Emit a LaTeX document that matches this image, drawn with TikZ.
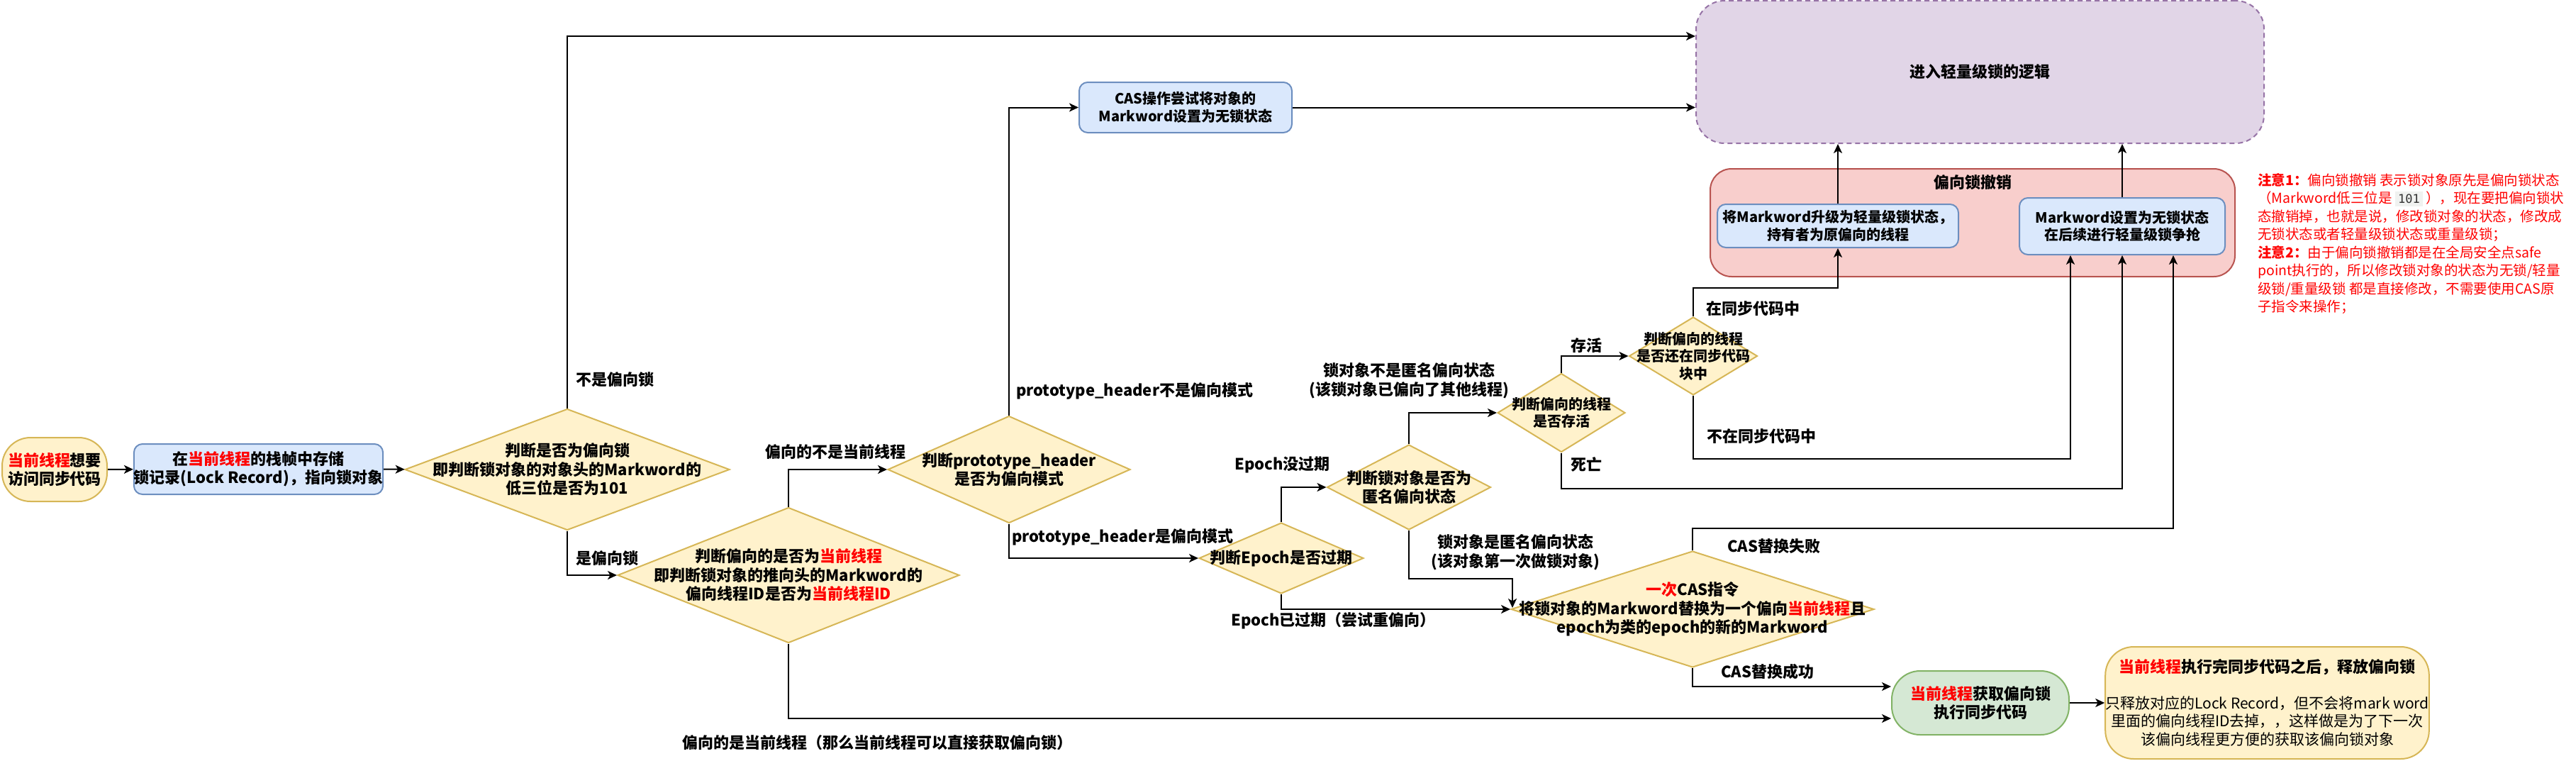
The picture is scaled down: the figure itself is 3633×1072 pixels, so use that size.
\documentclass[tikz,border=0pt]{standalone}
\usepackage{fontspec}
\setmainfont{Noto Sans CJK SC}
\setmonofont{DejaVu Sans Mono}
\usetikzlibrary{shapes.geometric,arrows.meta}

\definecolor{decfill}{HTML}{FFF2CC}
\definecolor{decline}{HTML}{D6B656}
\definecolor{blufill}{HTML}{DAE8FC}
\definecolor{bluline}{HTML}{6C8EBF}
\definecolor{grnfill}{HTML}{D5E8D4}
\definecolor{grnline}{HTML}{82B366}
\definecolor{revfill}{HTML}{F8CECC}
\definecolor{revline}{HTML}{B85450}
\definecolor{purfill}{HTML}{E1D5E7}
\definecolor{purline}{HTML}{9673A6}
\definecolor{codebg}{HTML}{F0F2F0}

\newcommand{\redtext}[1]{\textcolor{red}{#1}}
\newcommand{\fsA}{\fontsize{22}{26.5}\selectfont}
\newcommand{\fsB}{\fontsize{20}{24.5}\selectfont}
\newcommand{\fsN}{\fontsize{21}{25.5}\selectfont}
\newcommand{\fsM}{\fontsize{19.5}{25.5}\selectfont}

\tikzset{
  flow/.style={line width=2pt, -{Stealth[length=13pt,width=12pt,inset=3.5pt]}},
  decision/.style 2 args={diamond, draw=decline, fill=decfill, line width=2pt,
    minimum width=#1, minimum height=#2, inner sep=0pt},
  dtext/.style={font=\fsA\bfseries, align=center, inner sep=0pt},
  dtextsm/.style={font=\fsB\bfseries, align=center, inner sep=0pt},
  process/.style={rectangle, rounded corners=12pt, draw=bluline, fill=blufill,
    line width=2pt, inner sep=0pt, align=center, font=\fsA\bfseries},
  terminal/.style={rectangle, rounded corners=40pt, draw=decline, fill=decfill,
    line width=2pt, inner sep=0pt, align=center, font=\fsA\bfseries},
  lightbox/.style={rectangle, rounded corners=40pt, draw=purline, fill=purfill,
    line width=2pt, dash pattern=on 7pt off 5pt, font=\fsA\bfseries},
  revbox/.style={rectangle, rounded corners=30pt, draw=revline, fill=revfill, line width=2pt},
  revtitle/.style={anchor=north, yshift=-9pt, font=\fsA\bfseries, inner sep=0pt},
  elabel/.style={font=\fsA\bfseries, anchor=west, inner sep=0pt},
  clabel/.style={font=\fsA\bfseries, align=center, inner sep=0pt},
}

\begin{document}
\begin{tikzpicture}[x=1pt,y=-1pt]
    \useasboundingbox (0,0) rectangle (3633,1072);

    % 开始与加锁记录
    \node[terminal, minimum width=148pt, minimum height=90pt] (start) at (77,662) {\redtext{当前线程}想要\\访问同步代码};
    \node[process, minimum width=351pt, minimum height=71pt] (record) at (364.5,661.5) {在\redtext{当前线程}的栈帧中存储\\锁记录(Lock Record)，指向锁对象};

    % 判断节点
    \node[decision={458pt}{171pt}, label={[dtext]center:{判断是否为偏向锁\\即判断锁对象的对象头的Markword的\\低三位是否为101}}] (isbias) at (800,662) {};
    \node[decision={482pt}{191pt}, label={[dtext]center:{判断偏向的是否为\redtext{当前线程}\\即判断锁对象的推向头的Markword的\\偏向线程ID是否为\redtext{当前线程ID}}}] (iscur) at (1112,811) {};
    \node[decision={342pt}{151pt}, label={[dtext]center:{判断prototype\_header\\是否为偏向模式}}] (proto) at (1423,662) {};
    \node[decision={232pt}{100pt}, label={[dtext]center:{判断Epoch是否过期}}] (epoch) at (1807,787) {};
    \node[decision={231pt}{120pt}, label={[dtext]center:{判断锁对象是否为\\匿名偏向状态}}] (anon) at (1987,687) {};
    \node[decision={180pt}{111pt}, label={[dtextsm]center:{判断偏向的线程\\是否存活}}] (alive) at (2202,582) {};
    \node[decision={181pt}{110pt}, label={[dtextsm]center:{判断偏向的线程\\是否还在同步代码\\块中}}] (insync) at (2388,502) {};
    \node[decision={512pt}{164pt}, label={[dtext]center:{\redtext{一次}CAS指令\\将锁对象的Markword替换为一个偏向\redtext{当前线程}且\\epoch为类的epoch的新的Markword}}] (cas) at (2387,859) {};

    % 处理节点
    \node[process, font=\fsB\bfseries, minimum width=300pt, minimum height=71pt] (unlock) at (1672,151.5) {CAS操作尝试将对象的\\Markword设置为无锁状态};
    \node[lightbox, minimum width=801pt, minimum height=201pt] (light) at (2792.5,101.5) {进入轻量级锁的逻辑};
    \node[revbox, minimum width=740pt, minimum height=152pt, label={[revtitle]north:偏向锁撤销}] (revoke) at (2782,314) {};
    \node[process, font=\fsB\bfseries, minimum width=340pt, minimum height=61pt] (upgrade) at (2592,318.5) {将Markword升级为轻量级锁状态，\\持有者为原偏向的线程};
    \node[process, font=\fsB\bfseries, minimum width=290pt, minimum height=80pt] (nolock) at (2993,319) {Markword设置为无锁状态\\在后续进行轻量级锁争抢};
    \node[terminal, draw=grnline, fill=grnfill, minimum width=250pt, minimum height=90pt] (got) at (2793,991) {\redtext{当前线程}获取偏向锁\\执行同步代码};
    \node[terminal, font=\fsN, minimum width=451pt, minimum height=158pt] (release) at (3197.5,991) {{\fsA\bfseries\redtext{当前线程}执行完同步代码之后，释放偏向锁}\\[25pt]只释放对应的Lock Record，但不会将mark word\\里面的偏向线程ID去掉，，这样做是为了下一次\\该偏向线程更方便的获取该偏向锁对象};

    % 注意
    \node[font=\fsM, text=red, align=left, anchor=north west, inner sep=0pt] (note) at (3184,244) {\textbf{注意1：}偏向锁撤销 表示锁对象原先是偏向锁状态\\（Markword低三位是 {\setlength{\fboxsep}{4pt}\colorbox{codebg}{\textcolor{black!80}{\fontsize{17}{19}\selectfont\ttfamily 101}}} ），现在要把偏向锁状\\态撤销掉，也就是说，修改锁对象的状态，修改成\\无锁状态或者轻量级锁状态或重量级锁；\\\textbf{注意2：}由于偏向锁撤销都是在全局安全点safe\\point执行的，所以修改锁对象的状态为无锁/轻量\\级锁/重量级锁 都是直接修改，不需要使用CAS原\\子指令来操作；};

    % 连线
    \draw[flow] (start) -- (record);
    \draw[flow] (record) -- (isbias);
    \draw[flow] (isbias.north) |- ([yshift=50.5pt]light.west);
    \draw[flow] (isbias.south) |- (iscur.west);
    \draw[flow] (iscur.north) |- (proto.west);
    \draw[flow] (iscur.south) |- ([yshift=-22pt]got.west);
    \draw[flow] (proto.north) |- (unlock.west);
    \draw[flow] (unlock.east) -- (unlock.east -| light.west);
    \draw[flow] (proto.south) |- (epoch.west);
    \draw[flow] (epoch.north) |- (anon.west);
    \draw[flow] (epoch.south) |- (cas.west);
    \draw[flow] (anon.north) |- (alive.west);
    \draw[flow] (anon.south) |- ([xshift=3pt,yshift=43pt]cas.west) -- ([xshift=3pt,yshift=2pt]cas.west);
    \draw[flow] (alive.north) |- (insync.west);
    \draw[flow] (alive.south) -- ++(0,50) -| (nolock.south);
    \draw[flow] (insync.north) -- ++(0,-40) -| (upgrade.south);
    \draw[flow] (insync.south) -- ++(0,89) -| ([xshift=-73pt]nolock.south);
    \draw[flow] (cas.north) -- ++(0,-31) -| ([xshift=72pt]nolock.south);
    \draw[flow] (cas.south) |- ([yshift=23pt]got.west);
    \draw[flow] (got) -- (release);
    \draw[flow] (upgrade.north) -- (upgrade.north |- light.south);
    \draw[flow] (nolock.north) -- (nolock.north |- light.south);

    % 连线上的文字
    \node[elabel] (lnotbias) at (812,535) {不是偏向锁};
    \node[elabel] (lbias) at (812,787) {是偏向锁};
    \node[elabel] (lnotcur) at (1079,637) {偏向的不是当前线程};
    \node[elabel] (lcur) at (962,1047) {偏向的是当前线程（那么当前线程可以直接获取偏向锁）};
    \node[elabel] (lnotproto) at (1433,551) {prototype\_header不是偏向模式};
    \node[elabel] (lproto) at (1427,757) {prototype\_header是偏向模式};
    \node[elabel] (lfresh) at (1741,655) {Epoch没过期};
    \node[elabel] (lexpired) at (1736,875) {Epoch已过期（尝试重偏向）};
    \node[clabel] (lnotanon) at (1987,536.5) {锁对象不是匿名偏向状态\\(该锁对象已偏向了其他线程)};
    \node[clabel] (lanon) at (2137,778.5) {锁对象是匿名偏向状态\\(该对象第一次做锁对象)};
    \node[elabel] (lalive) at (2215,487) {存活};
    \node[elabel] (ldead) at (2215,655) {死亡};
    \node[elabel] (lin) at (2406,435) {在同步代码中};
    \node[elabel] (lout) at (2407,615) {不在同步代码中};
    \node[elabel] (lfail) at (2436,770) {CAS替换失败};
    \node[elabel] (lok) at (2427,947) {CAS替换成功};
\end{tikzpicture}
\end{document}
